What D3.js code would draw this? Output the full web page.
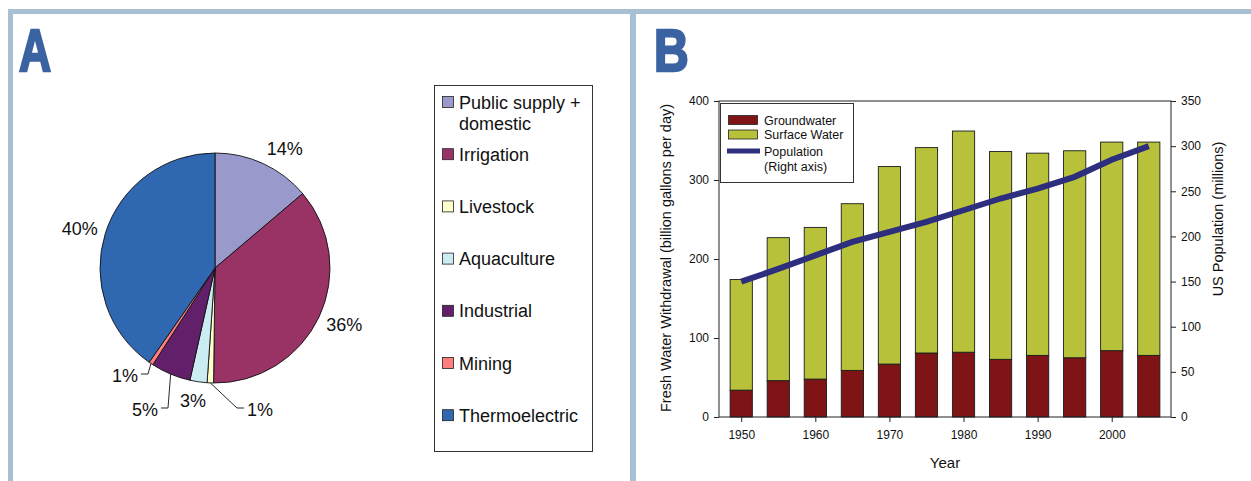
<!DOCTYPE html>
<html>
<head>
<meta charset="utf-8">
<script src="https://cdn.jsdelivr.net/npm/d3@7"></script>
<style>
body { margin: 0; background: #fff; }
text { font-family: "Liberation Sans", Arial, sans-serif; fill: #111; }
</style>
</head>
<body>
<svg id="chart"></svg>
<script>
// panel A - fresh water use by category (share of total)
let useCategories = ["Public supply +\ndomestic", "Irrigation", "Livestock", "Aquaculture", "Industrial", "Mining", "Thermoelectric"];
let useShares = [13.8, 36.4, 0.9, 2.4, 5.6, 0.6, 40.3];
let useLabels = ["14%", "36%", "1%", "3%", "5%", "1%", "40%"];

// panel B - withdrawals by source + population
let years = [1950, 1955, 1960, 1965, 1970, 1975, 1980, 1985, 1990, 1995, 2000, 2005];
let groundwater = [34, 46, 48, 59, 67, 81, 82, 73, 78, 75, 84, 78];
let surfaceWater = [140, 181, 192, 211, 250, 260, 280, 263, 256, 262, 264, 270];
let population = [150, 164, 179, 194, 205, 216, 229, 242, 253, 266, 285, 300];
let withdrawalTicks = [0, 100, 200, 300, 400];
let populationTicks = [0, 50, 100, 150, 200, 250, 300, 350];
let yearTicks = [1950, 1960, 1970, 1980, 1990, 2000];

//colors
let useColors = ["#9999cc", "#993366", "#ffffcc", "#ccecf4", "#63206a", "#ff7f7f", "#2f67b1"];
let gwColor = "#7f1416";
let swColor = "#b7c23a";
let popColor = "#2e2e7e";
let frameColor = "#a8c0d4";
let letterColor = "#3b63a2";

let svgWidth = 1251;
let svgHeight = 481;

let svg = d3.select("#chart")
    .attr("width", svgWidth)
    .attr("height", svgHeight)

// light blue frame lines
svg.append("line")
    .attr("x1", 8).attr("x2", svgWidth)
    .attr("y1", 11.5).attr("y2", 11.5)
    .attr("stroke", frameColor).attr("stroke-width", 5)
svg.append("line")
    .attr("x1", 10.5).attr("x2", 10.5)
    .attr("y1", 9).attr("y2", svgHeight)
    .attr("stroke", frameColor).attr("stroke-width", 5)
svg.append("line")
    .attr("x1", 633).attr("x2", 633)
    .attr("y1", 9).attr("y2", svgHeight)
    .attr("stroke", frameColor).attr("stroke-width", 6)

// panel letters (heavy condensed look: bold + stroke, squeezed)
svg.append("text")
    .attr("transform", "translate(19,71) scale(0.74,1)")
    .style("font-size", "60px").style("font-weight", "bold")
    .style("fill", letterColor)
    .style("stroke", letterColor).style("stroke-width", 2.5)
    .text("A")
svg.append("text")
    .attr("transform", "translate(654,71) scale(0.8,1)")
    .style("font-size", "60px").style("font-weight", "bold")
    .style("fill", letterColor)
    .style("stroke", letterColor).style("stroke-width", 2.5)
    .text("B")

// ---------- panel A: pie ----------
let pieCenter = [215, 268];
let radius = 115;

let pie = d3.pie().sort(null).value(d => d)
let arc = d3.arc().innerRadius(0).outerRadius(radius)
let slices = pie(useShares)

let pieG = svg.append("g")
    .attr("transform", "translate(" + pieCenter[0] + "," + pieCenter[1] + ")")

pieG.selectAll("path")
    .data(slices)
    .enter()
    .append("path")
    .attr("d", arc)
    .attr("fill", (d, i) => useColors[i])
    .attr("stroke", "#111")
    .attr("stroke-width", 0.9)

// labels: big slices placed just outside, small ones moved with leader lines
let labelFont = 18;
let moved = {
    2: { x: 247, y: 410, anchor: "start", leader: true },
    3: { x: 193, y: 401, anchor: "middle", leader: false },
    4: { x: 158, y: 410, anchor: "end", leader: true },
    5: { x: 138, y: 376, anchor: "end", leader: true }
}

slices.forEach(function (d, i) {
    let mid = (d.startAngle + d.endAngle) / 2;
    let lx, ly, anchor;
    if (moved[i]) {
        lx = moved[i].x - pieCenter[0];
        ly = moved[i].y - pieCenter[1];
        anchor = moved[i].anchor;
        if (moved[i].leader) {
            let px = Math.sin(mid) * radius, py = -Math.cos(mid) * radius;
            let dir = anchor == "start" ? -1 : 1;
            pieG.append("polyline")
                .attr("points", [[px, py], [lx + dir * 10, ly - 2], [lx + dir * 3, ly - 2]].map(p => p.join(",")).join(" "))
                .attr("fill", "none")
                .attr("stroke", "#111")
                .attr("stroke-width", 0.9)
        }
    } else {
        let r = radius + 8;
        lx = Math.sin(mid) * r;
        ly = -Math.cos(mid) * r - Math.cos(mid) * 9;
        anchor = Math.sin(mid) > 0 ? "start" : "end";
    }
    pieG.append("text")
        .attr("x", lx)
        .attr("y", ly + labelFont * 0.36)
        .attr("text-anchor", anchor)
        .style("font-size", labelFont + "px")
        .text(useLabels[i])
})

// legend A
let legA = svg.append("g")
legA.append("rect")
    .attr("x", 434.5).attr("y", 85.5)
    .attr("width", 158).attr("height", 366)
    .attr("fill", "#fff").attr("stroke", "#333").attr("stroke-width", 1)

let rowY = i => 102 + i * 52.2;
legA.selectAll(".sw")
    .data(useCategories)
    .enter()
    .append("rect")
    .attr("x", 442.5)
    .attr("y", (d, i) => rowY(i) - 5.5)
    .attr("width", 11).attr("height", 11)
    .attr("fill", (d, i) => useColors[i])
    .attr("stroke", "#222").attr("stroke-width", 0.8)

useCategories.forEach(function (name, i) {
    let t = legA.append("text")
        .attr("x", 459)
        .attr("y", rowY(i) + 6.5)
        .style("font-size", "18px")
    name.split("\n").forEach(function (line, j) {
        t.append("tspan")
            .attr("x", 459)
            .attr("dy", j == 0 ? 0 : 21)
            .text(line)
    })
})

// ---------- panel B: stacked bars + population ----------
let plot = { left: 719, right: 1171, top: 101, bottom: 417 };

let xScale = d3.scaleLinear()
    .domain([1947, 2008])
    .range([plot.left, plot.right])

let yLeft = d3.scaleLinear()
    .domain([0, 400])
    .range([plot.bottom, plot.top])

let yRight = d3.scaleLinear()
    .domain([0, 350])
    .range([plot.bottom, plot.top])

let barWidth = xScale(1950 + 3) - xScale(1950);

let table = years.map((y, i) => ({ year: y, Groundwater: groundwater[i], "Surface Water": surfaceWater[i] }))
let stack = d3.stack().keys(["Groundwater", "Surface Water"])
let layers = stack(table)
let layerColors = [gwColor, swColor]

svg.selectAll(".layer")
    .data(layers)
    .enter()
    .append("g")
    .attr("class", "layer")
    .attr("fill", (d, i) => layerColors[i])
    .selectAll("rect")
    .data(d => d)
    .enter()
    .append("rect")
    .attr("x", d => xScale(d.data.year) - barWidth / 2)
    .attr("y", d => yLeft(d[1]))
    .attr("width", barWidth)
    .attr("height", d => yLeft(d[0]) - yLeft(d[1]))
    .attr("stroke", "#1a1a1a")
    .attr("stroke-width", 0.9)

// population line
let popLine = d3.line()
    .x((d, i) => xScale(years[i]))
    .y(d => yRight(d))

svg.append("path")
    .datum(population)
    .attr("d", popLine)
    .attr("fill", "none")
    .attr("stroke", popColor)
    .attr("stroke-width", 6)

// frame of plot area
svg.append("rect")
    .attr("x", plot.left).attr("y", plot.top)
    .attr("width", plot.right - plot.left)
    .attr("height", plot.bottom - plot.top)
    .attr("fill", "none")
    .attr("stroke", "#222")
    .attr("stroke-width", 1)

let leftAxis = d3.axisLeft(yLeft).tickValues(withdrawalTicks).tickSize(5).tickPadding(5)
let rightAxis = d3.axisRight(yRight).tickValues(populationTicks).tickSize(5).tickPadding(5)
let bottomAxis = d3.axisBottom(xScale).tickValues(yearTicks).tickFormat(d3.format("d")).tickSize(5).tickPadding(8)

function styleAxis(g) {
    g.select(".domain").remove()
    g.selectAll("line").attr("stroke", "#222")
    g.selectAll("text")
        .style("font-family", "'Liberation Sans', Arial, sans-serif")
        .style("font-size", "12px")
        .attr("fill", "#111")
}

svg.append("g")
    .attr("transform", "translate(" + plot.left + ",0)")
    .call(leftAxis)
    .call(styleAxis)

svg.append("g")
    .attr("transform", "translate(" + plot.right + ",0)")
    .call(rightAxis)
    .call(styleAxis)

svg.append("g")
    .attr("transform", "translate(0," + plot.bottom + ")")
    .call(bottomAxis)
    .call(styleAxis)

// axis titles
svg.append("text")
    .attr("x", 945).attr("y", 468)
    .attr("text-anchor", "middle")
    .style("font-size", "15px")
    .text("Year")

svg.append("text")
    .attr("transform", "translate(671,258) rotate(-90)")
    .attr("text-anchor", "middle")
    .style("font-size", "14.5px")
    .text("Fresh Water Withdrawal (billion gallons per day)")

svg.append("text")
    .attr("transform", "translate(1223,219) rotate(-90)")
    .attr("text-anchor", "middle")
    .style("font-size", "14.5px")
    .text("US Population (millions)")

// legend B
let legB = svg.append("g")
legB.append("rect")
    .attr("x", 720.5).attr("y", 103.5)
    .attr("width", 133).attr("height", 79)
    .attr("fill", "#fff").attr("stroke", "#333").attr("stroke-width", 1)

let legBItems = ["Groundwater", "Surface Water"];
legB.selectAll(".swb")
    .data(legBItems)
    .enter()
    .append("rect")
    .attr("x", 728.5)
    .attr("y", (d, i) => 115.5 + i * 14.5)
    .attr("width", 29).attr("height", 9)
    .attr("fill", (d, i) => layerColors[i])
    .attr("stroke", "#222").attr("stroke-width", 0.8)

legB.selectAll(".tb")
    .data(legBItems)
    .enter()
    .append("text")
    .attr("x", 764)
    .attr("y", (d, i) => 124.5 + i * 14.5)
    .style("font-size", "12.5px")
    .text(d => d)

legB.append("line")
    .attr("x1", 727).attr("x2", 760)
    .attr("y1", 151).attr("y2", 151)
    .attr("stroke", popColor).attr("stroke-width", 5)

legB.append("text")
    .attr("x", 764).attr("y", 155.5)
    .style("font-size", "12.5px")
    .text("Population")
legB.append("text")
    .attr("x", 764).attr("y", 170.5)
    .style("font-size", "12.5px")
    .text("(Right axis)")
</script>
</body>
</html>
